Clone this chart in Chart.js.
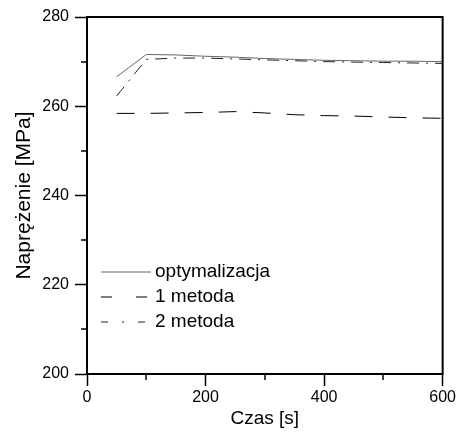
<!DOCTYPE html>
<html>
<head>
<meta charset="utf-8">
<script src="https://cdn.jsdelivr.net/npm/chart.js@4/dist/chart.umd.min.js"></script>
<style>
  html, body { margin: 0; padding: 0; background: #fff; }
  #wrap { width: 458px; height: 433px; }
</style>
</head>
<body>
<div id="wrap"><canvas id="chart" width="458" height="433"></canvas></div>
<script>
// dane
const czas = [50, 100, 150, 200, 250, 300, 350, 400, 450, 500, 550, 600];
const optymalizacja = [266.6, 271.6, 271.5, 271.2, 271.0, 270.7, 270.5, 270.3, 270.2, 270.1, 270.1, 270.0];
const metoda1 = [258.4, 258.4, 258.5, 258.6, 258.8, 258.5, 258.1, 257.9, 257.8, 257.6, 257.4, 257.3];
const metoda2 = [262.3, 270.5, 270.8, 270.8, 270.6, 270.4, 270.2, 270.0, 269.9, 269.8, 269.7, 269.6];
const seriesNames = ['optymalizacja', '1 metoda', '2 metoda'];

const xTicks = [0, 200, 400, 600];
const xMinor = [100, 300, 500];
const yTicks = [200, 220, 240, 260, 280];
const yMinor = [210, 230, 250, 270];

const FONT = "'Liberation Sans', Arial, Helvetica, sans-serif";

const toPoints = (ys) => ys.map((y, i) => ({ x: czas[i], y: y }));

// ramka + male kreski podzialki
const frameAndMinor = {
  id: 'frameAndMinor',
  afterDraw(chart) {
    const { ctx, chartArea: a, scales } = chart;
    ctx.save();
    ctx.strokeStyle = '#000';
    ctx.lineWidth = 2;
    ctx.strokeRect(a.left, a.top, a.right - a.left, a.bottom - a.top);
    ctx.lineWidth = 1.5;
    ctx.beginPath();
    xMinor.forEach(v => {
      const px = Math.round(scales.x.getPixelForValue(v));
      ctx.moveTo(px, a.bottom);
      ctx.lineTo(px, a.bottom + 6);
    });
    yMinor.forEach(v => {
      const py = Math.round(scales.y.getPixelForValue(v));
      ctx.moveTo(a.left, py);
      ctx.lineTo(a.left - 6, py);
    });
    ctx.stroke();
    ctx.restore();
  }
};

// legenda wewnatrz wykresu
const insideLegend = {
  id: 'insideLegend',
  afterDatasetsDraw(chart) {
    const { ctx } = chart;
    const rows = [272, 297, 322];
    ctx.save();
    chart.data.datasets.forEach((ds, i) => {
      const y = rows[i];
      ctx.strokeStyle = ds.borderColor;
      ctx.lineWidth = ds.borderWidth;
      ctx.setLineDash(ds.legendDash || []);
      ctx.beginPath();
      ctx.moveTo(101, y);
      ctx.lineTo(151, y);
      ctx.stroke();
      ctx.setLineDash([]);
      ctx.fillStyle = '#000';
      ctx.font = '19px ' + FONT;
      ctx.textBaseline = 'middle';
      ctx.textAlign = 'left';
      ctx.fillText(ds.label, 155, y);
    });
    ctx.restore();
  }
};

new Chart(document.getElementById('chart'), {
  type: 'line',
  data: {
    datasets: [
      {
        label: seriesNames[0],
        data: toPoints(optymalizacja),
        borderColor: '#666',
        borderWidth: 1,
        legendDash: []
      },
      {
        label: seriesNames[1],
        data: toPoints(metoda1),
        borderColor: '#000',
        borderWidth: 1,
        borderDash: [18, 16],
        legendDash: [11, 24]
      },
      {
        label: seriesNames[2],
        data: toPoints(metoda2),
        borderColor: '#222',
        borderWidth: 1,
        borderDash: [12, 7, 2, 7],
        legendDash: [7, 14, 2, 14]
      }
    ]
  },
  options: {
    responsive: false,
    animation: false,
    devicePixelRatio: 1,
    layout: { padding: { left: 0, top: 17, right: 14, bottom: 0 } },
    elements: {
      point: { radius: 0 },
      line: { tension: 0, fill: false }
    },
    plugins: {
      legend: { display: false },
      tooltip: { enabled: false }
    },
    scales: {
      x: {
        type: 'linear',
        min: 0,
        max: 600,
        afterBuildTicks: s => { s.ticks = xTicks.map(v => ({ value: v })); },
        afterFit: s => { s.height = 59; },
        border: { display: true, color: '#000', width: 2 },
        grid: { drawOnChartArea: false, drawTicks: true, tickLength: 12, tickColor: '#000', tickWidth: 1.5 },
        ticks: { color: '#000', padding: 2, maxRotation: 0, font: { family: FONT, size: 16 } },
        title: {
          display: true,
          text: 'Czas [s]',
          color: '#000',
          padding: { top: 0, bottom: 3 },
          font: { family: FONT, size: 19 }
        }
      },
      y: {
        type: 'linear',
        min: 200,
        max: 280,
        afterBuildTicks: s => { s.ticks = yTicks.map(v => ({ value: v })); },
        afterFit: s => { s.width = 87; },
        border: { display: true, color: '#000', width: 2 },
        grid: { drawOnChartArea: false, drawTicks: true, tickLength: 12, tickColor: '#000', tickWidth: 1.5 },
        ticks: { color: '#000', padding: 6, font: { family: FONT, size: 16 } },
        title: {
          display: true,
          text: 'Naprężenie [MPa]',
          color: '#000',
          padding: { top: 12, bottom: 0 },
          font: { family: FONT, size: 21 }
        }
      }
    }
  },
  plugins: [frameAndMinor, insideLegend]
});
</script>
</body>
</html>
